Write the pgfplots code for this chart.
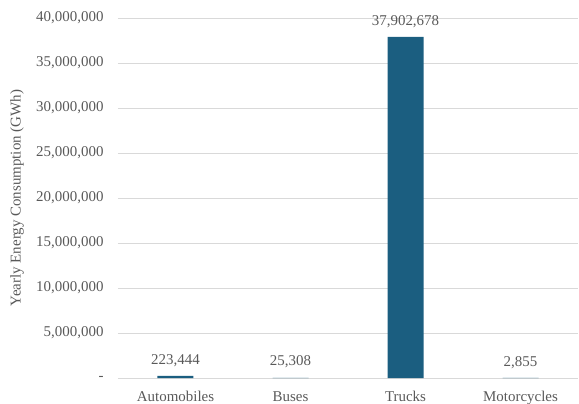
\documentclass[border=0pt]{standalone}
\usepackage{pgfplots}
\pgfplotsset{compat=1.18}
\usepackage{pgfplotstable}
\usepackage{fontspec}
\setmainfont{Liberation Serif}
\definecolor{barc}{HTML}{1B5E80}
\definecolor{txt}{HTML}{595959}
\definecolor{gridc}{HTML}{D9D9D9}
\pgfplotstableread{
x y lab
0 223444 223,444
1 25308 25,308
2 37902678 37,902,678
3 2855 2,855
}\data
\begin{document}
\begin{tikzpicture}
\begin{axis}[
  name=ax,
  scale only axis,
  width=460bp, height=360bp,
  xmin=-0.5, xmax=3.5,
  ymin=0, ymax=40000000,
  scaled y ticks=false,
  xtick={0,1,2,3},
  xticklabels={Automobiles,Buses,Trucks,Motorcycles},
  ytick={0,5000000,10000000,15000000,20000000,25000000,30000000,35000000,40000000},
  yticklabels={{-},{5,000,000},{10,000,000},{15,000,000},{20,000,000},{25,000,000},{30,000,000},{35,000,000},{40,000,000}},
  /pgf/number format/assume math mode=true,
  ymajorgrids, xmajorgrids=false,
  major grid style={draw=gridc, line width=0.8pt},
  axis x line*=bottom,
  axis y line*=left,
  y axis line style={draw=none},
  x axis line style={draw=gridc, line width=0.8pt, -},
  major tick length=0pt,
  tick label style={font=\fontsize{15}{17}\selectfont, text=txt},
  ylabel={Yearly Energy Consumption (GWh)},
  ylabel style={font=\fontsize{15}{17}\selectfont, text=txt, at={(axis description cs:0,0.5)}, anchor=center, rotate=0, yshift=101bp},
  yticklabel style={xshift=-11bp},
  xticklabel style={yshift=-10bp},
  clip=false,
]
\addplot[ybar, bar width=36bp, fill=barc, draw=none,
  point meta=explicit symbolic,
  nodes near coords,
  nodes near coords style={font=\fontsize{15}{17}\selectfont, text=txt, anchor=south, yshift=6bp}]
  table[x=x, y=y, meta=lab] {\data};
\end{axis}
\pgfresetboundingbox
\path[use as bounding box] ([xshift=-118bp,yshift=-26bp]ax.south west) rectangle ++(579bp,404bp);
\end{tikzpicture}
\end{document}
